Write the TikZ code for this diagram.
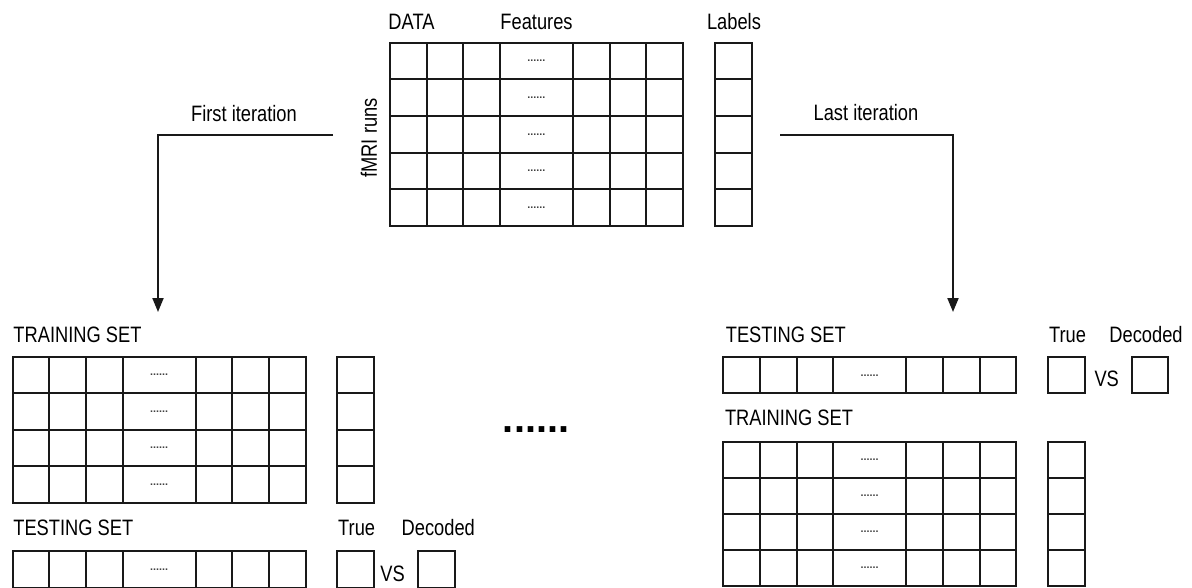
\documentclass[tikz,border=0pt]{standalone}
\usepackage{fontspec}
\setmainfont{Liberation Sans}[FakeStretch=0.82]
\newfontfamily\dotfont{Liberation Sans}
\usetikzlibrary{arrows.meta}

% cell geometry (1pt = 1 image pixel)
\def\cw{36.6}
\tikzset{
  rowh/.store in=\ch, rowh=36.6,
  cellline/.style={line width=2pt, draw=black!90, line cap=rect},
  lbl/.style={inner sep=0pt, font=\fontsize{22.3}{24}\selectfont},
  celldots/.style={inner sep=0pt, text=black!75, font=\dotfont\bfseries\fontsize{10.8}{11}\selectfont},
  flow/.style={line width=2pt, draw=black!90, -{Triangle[length=14pt,width=11pt]}},
  % feature table: 3 cells, a double-width "......" cell, 3 cells
  featgrid/.pic={
    \draw[cellline] (0,0) rectangle (8*\cw,#1*\ch);
    \foreach \k in {1,2,3,5,6,7}
      \draw[cellline] (\k*\cw,0) -- (\k*\cw,#1*\ch);
    \foreach \r in {1,...,#1} {
      \draw[cellline] (0,\r*\ch) -- (8*\cw,\r*\ch);
      \node[celldots] (-dots\r) at (4*\cw,{(\r-0.5)*\ch}) {......};
    }
  },
  % single column of label cells
  labelcol/.pic={
    \draw[cellline] (0,0) rectangle (\cw,#1*\ch);
    \foreach \r in {1,...,#1}
      \draw[cellline] (0,\r*\ch) -- (\cw,\r*\ch);
  }
}

\begin{document}
\begin{tikzpicture}[x=1pt,y=-1pt]
\useasboundingbox (0,0) rectangle (1192,588);

% ---- full data set ----
\node[lbl] (dataT) at (411.5,21.5) {DATA};
\node[lbl] (featT) at (536.5,21.5) {Features};
\node[lbl] (labT) at (734,21.5) {Labels};
\node[lbl, rotate=90] (runsT) at (369,138) {fMRI runs};
\pic[rowh=36.66] (data) at (390,42.7) {featgrid=5};
\pic[rowh=36.66] (datalab) at (715,42.7) {labelcol=5};

% ---- iteration arrows ----
\node[lbl] (firstT) at (244,114) {First iteration};
\node[lbl] (lastT) at (866,113) {Last iteration};
\coordinate (firstFrom) at (333,135);
\coordinate (firstTo) at (158,312);
\coordinate (lastFrom) at (780,135);
\coordinate (lastTo) at (953,312);
\draw[flow] (firstFrom) -| (firstTo);
\draw[flow] (lastFrom) -| (lastTo);

% ---- first iteration ----
\node[lbl] (trainL) at (77.5,334.7) {TRAINING SET};
\pic[rowh=36.5] (trainLgrid) at (12.7,356.7) {featgrid=4};
\pic[rowh=36.5] (trainLlab) at (337.3,356.7) {labelcol=4};
\node[lbl] (testL) at (73.3,528) {TESTING SET};
\node[lbl] (trueL) at (356.7,528) {True};
\node[lbl] (decL) at (438.3,528) {Decoded};
\pic (testLgrid) at (12.7,551.2) {featgrid=1};
\pic (trueLbox) at (337.3,551.2) {labelcol=1};
\node[lbl] (vsL) at (392.5,574) {VS};
\pic (decLbox) at (418.3,551.2) {labelcol=1};

% ---- iterations in between ----
\node[inner sep=0pt, font=\dotfont\bfseries\fontsize{39.6}{40}\selectfont] (midDots) at (536,430) {......};

% ---- last iteration ----
\node[lbl] (testR) at (785.8,334.7) {TESTING SET};
\node[lbl] (trueR) at (1067.5,334.7) {True};
\node[lbl] (decR) at (1146,334.7) {Decoded};
\pic[rowh=36] (testRgrid) at (723.3,357.3) {featgrid=1};
\pic[rowh=36] (trueRbox) at (1048.3,357.3) {labelcol=1};
\node[lbl] (vsR) at (1106.7,379) {VS};
\pic[rowh=36] (decRbox) at (1131.7,357.3) {labelcol=1};
\node[lbl] (trainR) at (789,418) {TRAINING SET};
\pic[rowh=36.1] (trainRgrid) at (723.3,441.7) {featgrid=4};
\pic[rowh=36.1] (trainRlab) at (1048.3,441.7) {labelcol=4};
\end{tikzpicture}
\end{document}
